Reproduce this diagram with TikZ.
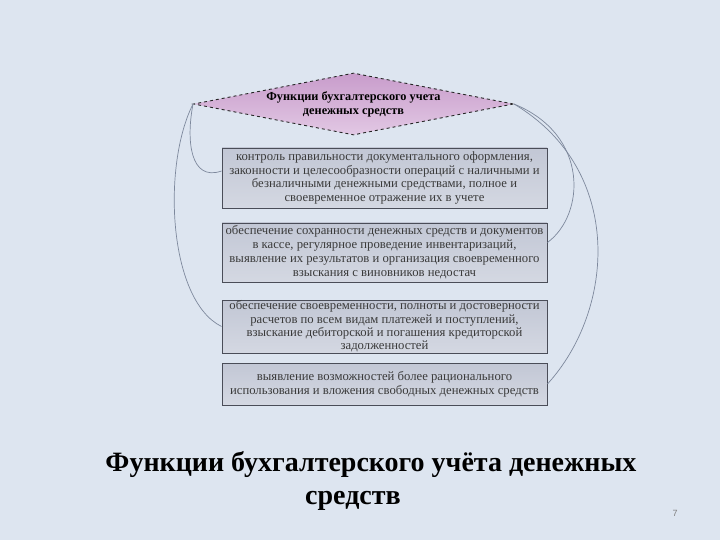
\documentclass[tikz,border=0pt]{standalone}
\usepackage{fontspec}
\setmainfont{Liberation Serif}
\newfontfamily\pgnumfont{Liberation Sans}
\usetikzlibrary{shapes.geometric}
\definecolor{bgc}{HTML}{DDE5F0}
\definecolor{boxtop}{HTML}{C2C7D5}
\definecolor{boxbot}{HTML}{D4D8E2}
\definecolor{boxline}{HTML}{4A4D58}
\definecolor{boxtxt}{HTML}{3A3A3A}
\definecolor{dtop}{HTML}{C89CCB}
\definecolor{dbot}{HTML}{E2C8E4}
\definecolor{linkc}{HTML}{7D889C}
\tikzset{
  funcbox/.style={rectangle, draw=boxline, line width=0.9pt, top color=boxtop, bottom color=boxbot,
    minimum width=325pt, inner sep=1pt, align=center, text=boxtxt,
    font=\fontsize{12.7}{13.9}\selectfont},
  headdia/.style={diamond, draw=black!85, dashed, line width=0.9pt, top color=dtop, bottom color=dbot,
    minimum width=320pt, minimum height=62pt, inner sep=0pt, aspect=5.16, align=center,
    font=\bfseries\fontsize{12.3}{14}\selectfont},
  linkline/.style={draw=linkc, line width=0.7pt},
  titletext/.style={font=\bfseries\fontsize{28}{30}\selectfont, text=black, anchor=base}
}
\begin{document}
\begin{tikzpicture}[x=1pt,y=-1pt]
\fill[bgc] (0,0) rectangle (720,540);
\useasboundingbox (0,0) rectangle (720,540);

\node[headdia] (d) at (353.5,104) {Функции бухгалтерского учета\\денежных средств};

\node[funcbox, minimum height=60pt] (b1) at (384.5,178) {контроль правильности документального оформления,\\законности и целесообразности операций с наличными и\\безналичными денежными средствами, полное и\\своевременное отражение их в учете};
\node[funcbox, minimum height=59pt] (b2) at (384.5,252.5) {обеспечение сохранности денежных средств и документов\\в кассе, регулярное проведение инвентаризаций,\\выявление их результатов и организация своевременного\\взыскания с виновников недостач};
\node[funcbox, minimum height=53pt, inner sep=0pt, font=\fontsize{12.7}{13.4}\selectfont] (b3) at (384.5,326.5) {обеспечение своевременности, полноты и достоверности\\расчетов по всем видам платежей и поступлений,\\взыскание дебиторской и погашения кредиторской\\задолженностей};
\node[funcbox, minimum height=42pt] (b4) at (384.5,384) {выявление возможностей более рационального\\использования и вложения свободных денежных средств};

\draw[linkline] (d.west) .. controls (186,140) and (190,182) .. ([yshift=7pt]b1.west);
\draw[linkline] (d.west) .. controls (162,165) and (168,300) .. (b3.west);
\draw[linkline] (d.east) .. controls (590,135) and (585,215) .. ([yshift=10pt]b2.east);
\draw[linkline] (d.east) .. controls (625,170) and (615,310) .. (b4.east);

\node[titletext] (t1) at (371,471) {Функции бухгалтерского учёта денежных};
\node[titletext] (t2) at (353,504) {средств};
\node[font=\pgnumfont\fontsize{9}{10}\selectfont, text=black!50, anchor=base] (pg) at (675,516) {7};
\end{tikzpicture}
\end{document}
